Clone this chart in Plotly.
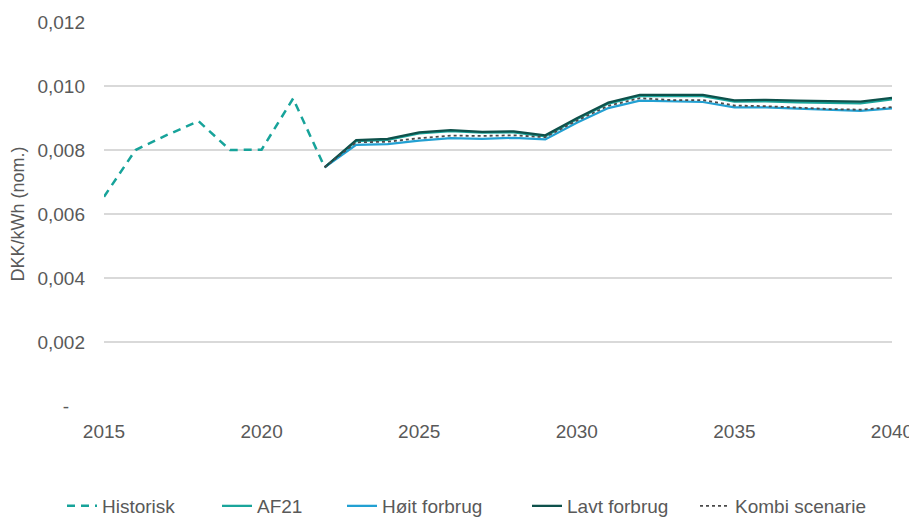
import plotly.graph_objects as go

years_hist = list(range(2015, 2023))
historisk = [0.00654, 0.00800, 0.00847, 0.00890, 0.00800, 0.00801, 0.00961, 0.00746]

years_fc = list(range(2022, 2041))
af21 = [0.00746, 0.00828, 0.00832, 0.00852, 0.00859, 0.00854, 0.00855, 0.00843, 0.00896,
        0.00945, 0.00969, 0.00968, 0.00968, 0.00951, 0.00952, 0.00949, 0.00947, 0.00946, 0.00958]
hoit = [0.00746, 0.00816, 0.00818, 0.00829, 0.00837, 0.00835, 0.00838, 0.00833, 0.00885,
        0.00931, 0.00954, 0.00951, 0.00950, 0.00933, 0.00933, 0.00929, 0.00925, 0.00922, 0.00930]
lavt = [0.00746, 0.00831, 0.00835, 0.00855, 0.00862, 0.00857, 0.00858, 0.00846, 0.00899,
        0.00948, 0.00972, 0.00971, 0.00972, 0.00955, 0.00957, 0.00954, 0.00952, 0.00951, 0.00963]
kombi = [0.00746, 0.00824, 0.00826, 0.00837, 0.00845, 0.00844, 0.00846, 0.00840, 0.00892,
         0.00938, 0.00962, 0.00956, 0.00956, 0.00939, 0.00937, 0.00932, 0.00928, 0.00926, 0.00934]

y_tickvals = [0, 0.002, 0.004, 0.006, 0.008, 0.010, 0.012]
y_ticktext = ["-\u00a0\u00a0\u00a0", "0,002", "0,004", "0,006", "0,008", "0,010", "0,012"]
x_tickvals = [2015, 2020, 2025, 2030, 2035, 2040]

FONT = "Liberation Sans, Arial, sans-serif"
TXT = "#595959"

fig = go.Figure()
fig.add_trace(go.Scatter(x=years_hist, y=historisk, name="Historisk", mode="lines",
                         line=dict(color="#17A39A", width=2.5, dash="8px,6px"), legend="legend"))
fig.add_trace(go.Scatter(x=years_fc, y=af21, name="AF21", mode="lines",
                         line=dict(color="#1AA59B", width=2.25), legend="legend2"))
fig.add_trace(go.Scatter(x=years_fc, y=hoit, name="Høit forbrug", mode="lines",
                         line=dict(color="#22A0D2", width=2.25), legend="legend3"))
fig.add_trace(go.Scatter(x=years_fc, y=lavt, name="Lavt forbrug", mode="lines",
                         line=dict(color="#0E514B", width=2.25), legend="legend4"))
fig.add_trace(go.Scatter(x=years_fc, y=kombi, name="Kombi scenarie", mode="lines",
                         line=dict(color="#4A4A4A", width=1.8, dash="dot"), legend="legend5"))

# page has an 8px body margin; figure is sized so the plot area lands at x 104..892, y 22..406
def px_x(p):
    return (p - 104) / 788.0

leg_y = (406 - 506) / 384.0
legend_common = dict(orientation="h", yanchor="middle", y=leg_y, xanchor="left",
                     font=dict(family=FONT, size=19, color=TXT), bgcolor="rgba(0,0,0,0)",
                     itemwidth=30)

fig.update_layout(
    width=909, height=509,
    margin=dict(l=96, r=25, t=14, b=111, autoexpand=False),
    paper_bgcolor="white", plot_bgcolor="white",
    font=dict(family=FONT, size=19, color=TXT),
    showlegend=True,
    legend=dict(legend_common, x=px_x(102 - 40)),
    legend2=dict(legend_common, x=px_x(257 - 40)),
    legend3=dict(legend_common, x=px_x(382 - 40)),
    legend4=dict(legend_common, x=px_x(567 - 40)),
    legend5=dict(legend_common, x=px_x(735 - 40)),
    xaxis=dict(range=[2015, 2040], tickvals=x_tickvals, showgrid=False, zeroline=False,
               showline=False, ticks="", ticklabelstandoff=12, automargin=False,
               tickfont=dict(family=FONT, size=19, color=TXT)),
    yaxis=dict(range=[0, 0.012], tickvals=y_tickvals, ticktext=y_ticktext,
               showgrid=True, gridcolor="#D9D9D9", gridwidth=1.5, zeroline=False,
               showline=False, ticks="", ticklabelstandoff=18, automargin=False,
               tickfont=dict(family=FONT, size=19, color=TXT),
               title=dict(text="DKK/kWh (nom.)", font=dict(family=FONT, size=18, color=TXT),
                          standoff=8)),
)

fig.write_html("out.html")
